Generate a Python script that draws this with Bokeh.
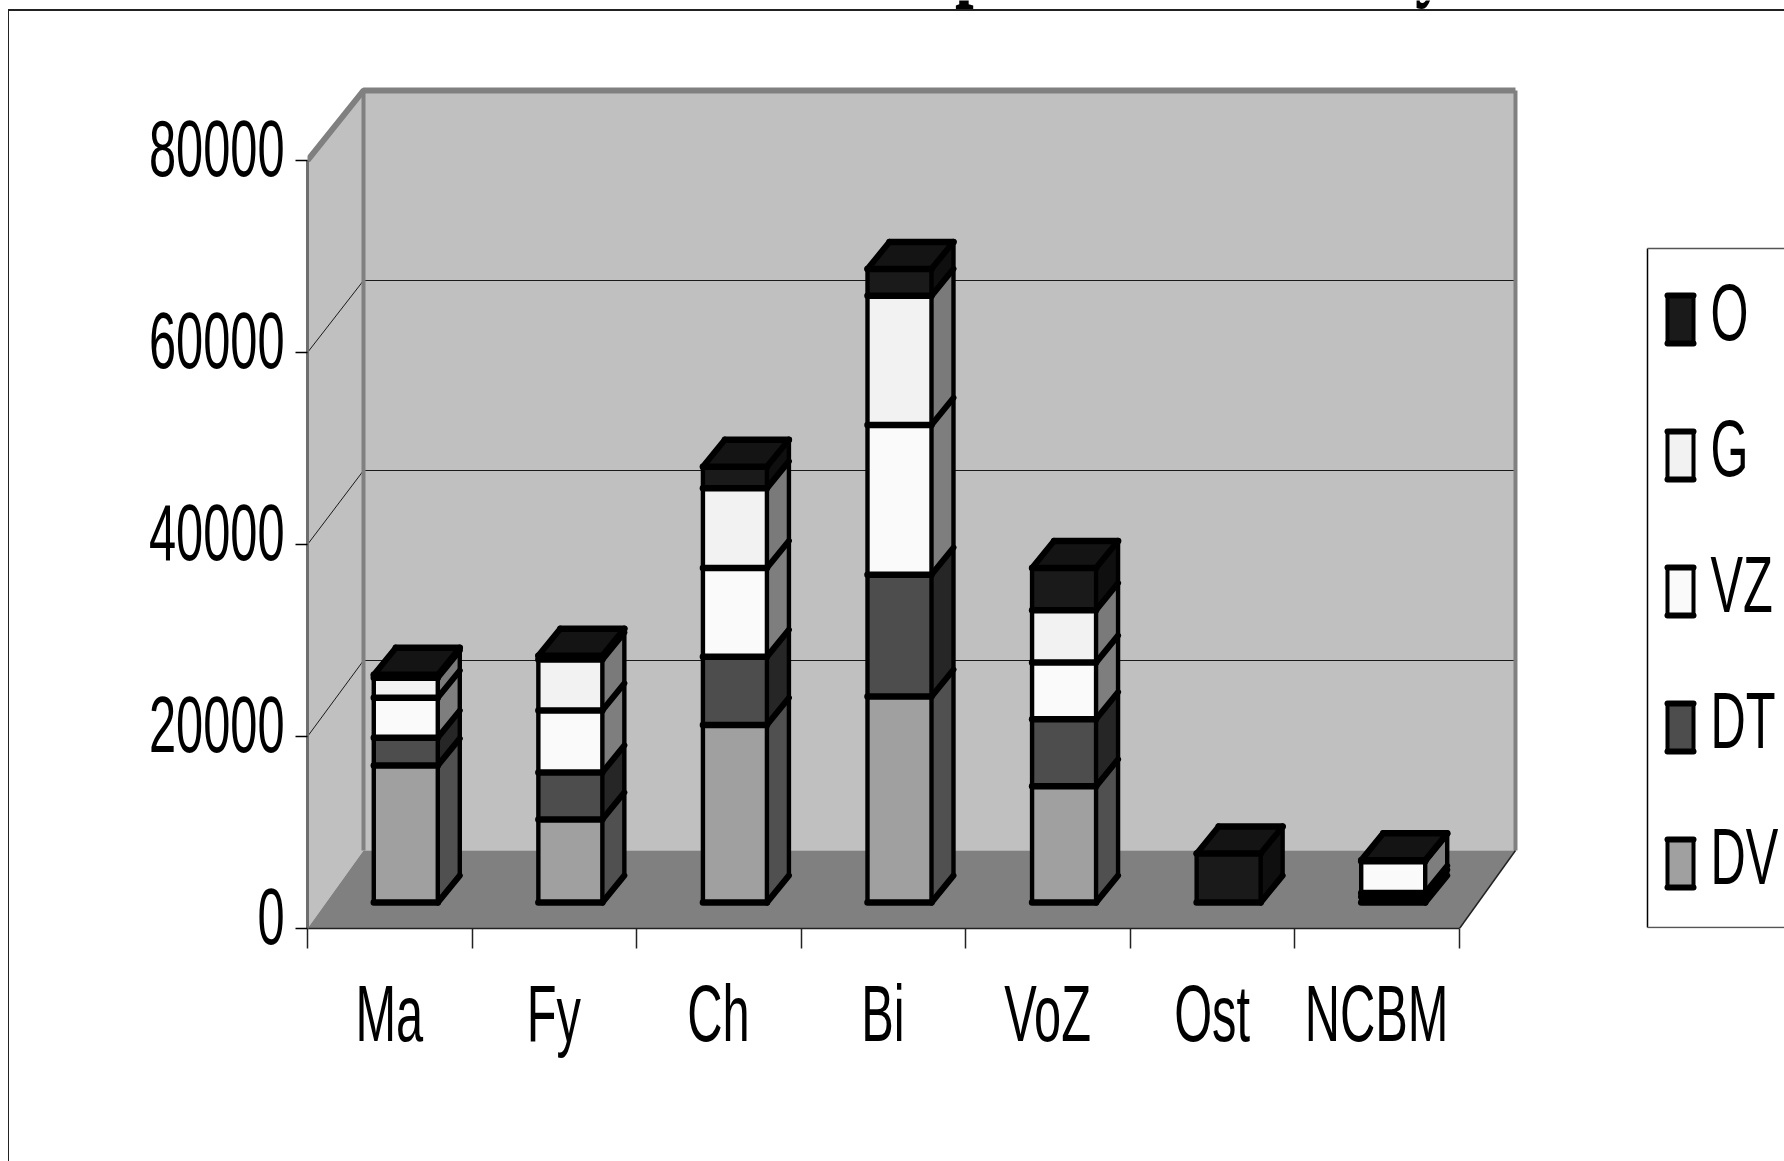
from bokeh.plotting import figure
from bokeh.embed import file_html
from bokeh.resources import INLINE
from bokeh.io import curdoc
from bokeh.models import Range1d, LinearAxis, FixedTicker, CustomJS, Label

categories = ["Ma", "Fy", "Ch", "Bi", "VoZ", "Ost", "NCBM"]
DV = [14270, 8650, 18500, 21450, 12100, 0, 600]
DT = [2900, 4900, 7100, 12700, 7000, 0, 400]
VZ = [4170, 6460, 9250, 15600, 5900, 0, 3300]
G = [2080, 5300, 8300, 13450, 5450, 0, 0]
O = [300, 400, 2250, 2800, 4400, 5100, 100]
series_names = ["DV", "DT", "VZ", "G", "O"]
series_values = [DV, DT, VZ, G, O]
front_colors = ["#a0a0a0", "#4d4d4d", "#fafafa", "#f2f2f2", "#1a1a1a"]
side_colors = ["#505050", "#262626", "#7e7e7e", "#7a7a7a", "#0f0f0f"]
top_colors = ["#505050", "#262626", "#7e7e7e", "#7a7a7a", "#141414"]
y_ticks = [0, 20000, 40000, 60000, 80000]

FONT = "Liberation Sans"
CAT_PX = 164.57              # pixels per category
U = 20000 / 192.0            # value units per pixel
LEFT_PX, ZERO_PX = 307, 928  # screen position of the axes' origin
FIG_W, FIG_H = 1784, 1161


def dx(px):
    return px / CAT_PX


def dy(px):
    return px * U


def LX(sx):
    return (sx - LEFT_PX) / CAT_PX


def LY(sy):
    return (ZERO_PX - sy) * U


p = figure(
    width=FIG_W, height=FIG_H, output_backend="svg", toolbar_location=None,
    x_range=Range1d(0, (FIG_W - LEFT_PX) / CAT_PX), y_range=Range1d(0, ZERO_PX * U),
    x_axis_type=None, y_axis_type=None,
    min_border_left=LEFT_PX, min_border_right=0, min_border_top=0,
    min_border_bottom=FIG_H - ZERO_PX, outline_line_color=None,
    border_fill_color=None, background_fill_color=None,
    styles={
        "background-color": "white",
        "background-image": "linear-gradient(#222,#222), linear-gradient(#222,#222)",
        "background-position": "8px 9px, 8px 9px",
        "background-size": "100% 2px, 1px 100%",
        "background-repeat": "no-repeat, no-repeat",
    },
)
p.grid.visible = False

# ---------- chart walls ----------
n = len(categories)
DEPTH_X, DEPTH_Y = 56, 78
wall_x0, wall_x1 = dx(DEPTH_X), n + dx(DEPTH_X)
floor_back = dy(DEPTH_Y)
top_v = y_ticks[-1]


def back_y(v):
    return dy(DEPTH_Y + v * 190 / 20000)


p.patches(
    xs=[[0, wall_x0, wall_x0, 0], [wall_x0, wall_x1, wall_x1, wall_x0], [0, wall_x0, wall_x1, n]],
    ys=[[0, floor_back, back_y(top_v), top_v],
        [floor_back, floor_back, back_y(top_v), back_y(top_v)],
        [0, floor_back, floor_back, 0]],
    fill_color=["#c0c0c0", "#c0c0c0", "#808080"], line_color=None,
)
for v in y_ticks[1:-1]:
    p.line([0, wall_x0, wall_x1], [v, back_y(v), back_y(v)], line_color="#1a1a1a", line_width=1)
GRAY = "#808080"
p.line([wall_x0, wall_x0], [floor_back, back_y(top_v)], line_color=GRAY, line_width=4)
p.line([wall_x1, wall_x1], [floor_back, back_y(top_v)], line_color=GRAY, line_width=4)
p.line([0, wall_x0, wall_x1], [top_v, back_y(top_v), back_y(top_v)], line_color=GRAY, line_width=6)
p.line([n, wall_x1], [0, floor_back], line_color="#222222", line_width=1.5)

# ---------- stacked bars ----------
BAR_W, BAR_DX, BAR_DY, BASE_PX, SHIFT_PX = 64, 22, 27, 26, 16
fx, fy, fc = [], [], []
hx0, hx1, hy = [], [], []
vx, vy0, vy1 = [], [], []
ax0, ay0, ax1, ay1 = [], [], [], []

for i in range(n):
    xl = i + 0.5 + dx(SHIFT_PX - BAR_W / 2)
    xr = i + 0.5 + dx(SHIFT_PX + BAR_W / 2)
    d_x, d_y = dx(BAR_DX), dy(BAR_DY)
    y = dy(BASE_PX)
    y_base = y
    hx0.append(xl); hx1.append(xr); hy.append(y)
    ax0.append(xr); ay0.append(y); ax1.append(xr + d_x); ay1.append(y + d_y)
    last = None
    for s, vals in enumerate(series_values):
        h = vals[i]
        if h <= 0:
            continue
        y2 = y + h
        fx += [[xl, xr, xr, xl], [xr, xr + d_x, xr + d_x, xr]]
        fy += [[y, y, y2, y2], [y, y + d_y, y2 + d_y, y2]]
        fc += [front_colors[s], side_colors[s]]
        hx0.append(xl); hx1.append(xr); hy.append(y2)
        ax0.append(xr); ay0.append(y2); ax1.append(xr + d_x); ay1.append(y2 + d_y)
        y = y2
        last = s
    fx.append([xl, xr, xr + d_x, xl + d_x])
    fy.append([y, y, y + d_y, y + d_y])
    fc.append(top_colors[last])
    hx0.append(xl + d_x); hx1.append(xr + d_x); hy.append(y + d_y)
    ax0.append(xl); ay0.append(y); ax1.append(xl + d_x); ay1.append(y + d_y)
    for xv, a, b in ((xl, y_base, y), (xr, y_base, y), (xr + d_x, y_base + d_y, y + d_y)):
        vx.append(xv); vy0.append(a); vy1.append(b)

p.patches(xs=fx, ys=fy, fill_color=fc, line_color=None)
p.segment(x0=ax0, y0=ay0, x1=ax1, y1=ay1, line_color="black", line_width=6, line_cap="round")
p.segment(x0=vx, y0=vy0, x1=vx, y1=vy1, line_color="black", line_width=4.4, line_cap="round")
p.segment(x0=hx0, y0=hy, x1=hx1, y1=hy, line_color="black", line_width=6.5, line_cap="round")

# ---------- axes ----------
yax = LinearAxis(
    ticker=FixedTicker(ticks=y_ticks), bounds=(0, top_v),
    major_label_overrides={v: str(v).rjust(5, "#").replace("#", "\u00a0\u00a0") for v in y_ticks},
    axis_line_color="#6e6e6e", axis_line_width=3,
    major_tick_line_color="black", major_tick_line_width=1.5, major_tick_in=0, major_tick_out=12,
    minor_tick_line_color=None, major_label_standoff=-33,
    major_label_text_font=FONT, major_label_text_font_size="80px",
    major_label_text_color="black",
)
p.add_layout(yax, "left")
mids = [i + 0.5 for i in range(n)]
xax = LinearAxis(
    ticker=FixedTicker(ticks=mids, minor_ticks=list(range(n + 1))), bounds=(0, n),
    major_label_overrides={m: c for m, c in zip(mids, categories)},
    axis_line_color="#222222", axis_line_width=1.5,
    major_tick_line_color=None, major_tick_in=0, major_tick_out=0,
    minor_tick_line_color="#222222", minor_tick_line_width=1.5, minor_tick_in=0, minor_tick_out=20,
    major_label_standoff=32,
    major_label_text_font=FONT, major_label_text_font_size="80px",
    major_label_text_color="black",
)
p.add_layout(xax, "below")

# ---------- legend ----------
legend_order = [4, 3, 2, 1, 0]
LEG_L, LEG_T, LEG_B = LX(1647), LY(248), LY(927)
p.segment(x0=[LEG_L], y0=[LEG_T], x1=[LEG_L], y1=[LEG_B], line_color="black", line_width=1.5)
p.segment(x0=[LEG_L, LEG_L], y0=[LEG_T, LEG_B], x1=[LX(1790), LX(1790)], y1=[LEG_T, LEG_B],
          line_color="#555555", line_width=1.5)
lx0, lx1, ly0, ly1, lc = [], [], [], [], []
sw_l, sw_r = 1667, 1693
for row, s in enumerate(legend_order):
    t_px = 295 + 136 * row
    b_px = t_px + 48
    lx0.append(LX(sw_l)); lx1.append(LX(sw_r)); ly0.append(LY(b_px)); ly1.append(LY(t_px))
    lc.append(front_colors[s])
    p.add_layout(Label(x=LX(1710), y=LY((t_px + b_px) / 2 - 7), text=series_names[s],
                       text_font=FONT, text_font_size="80px", text_align="left",
                       text_baseline="middle", text_color="black"))
p.quad(left=lx0, right=lx1, bottom=ly0, top=ly1, fill_color=lc, line_color=None)
p.segment(x0=lx0 + lx0, y0=ly0 + ly1,
          x1=lx1 + lx1, y1=ly0 + ly1, line_color="black", line_width=6, line_cap="round")
p.segment(x0=lx0 + lx1, y0=ly0 + ly0, x1=lx0 + lx1, y1=ly1 + ly1,
          line_color="black", line_width=4, line_cap="round")

# ---------- clipped title ----------
for ch, sx in (("p", 985), ("y", 1442)):
    p.add_layout(Label(x=LX(sx), y=LY(10), text=ch, text_font="Liberation Serif",
                       text_font_style="bold", text_font_size="110px", text_align="center",
                       text_baseline="bottom", text_color="black"))

js = """
const walk = (r) => {
  r.querySelectorAll('*').forEach((e) => {
    if (e.shadowRoot) walk(e.shadowRoot);
    if (e.tagName === 'text') {
      if (parseFloat(e.getAttribute('x') || '0') > 0) {
        e.style.transformBox = 'fill-box';
        e.style.transformOrigin = 'center';
        e.style.transform = 'translateY(-11px) scaleX(0.61)';
      } else {
        const t = e.getAttribute('transform') || '';
        if (!t.includes('scale(0.61')) e.setAttribute('transform', t + ' scale(0.61,1)');
      }
    }
  });
};
walk(document);
setInterval(() => walk(document), 40);
"""
doc = curdoc()
doc.add_root(p)
doc.js_on_event("document_ready", CustomJS(code=js))

open("out.html", "w").write(file_html(p, INLINE))
